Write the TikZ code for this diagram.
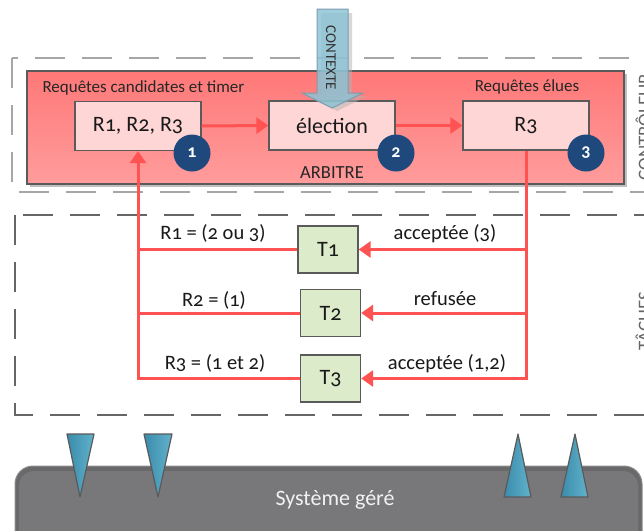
\documentclass[tikz,border=0pt]{standalone}
\usepackage{fontspec}
\setmainfont{Carlito}[Numbers=OldStyle]
\usetikzlibrary{arrows.meta}
\definecolor{boxline}{HTML}{5A5A5A}
\definecolor{pinkfill}{HTML}{FFD6D6}
\definecolor{greenfill}{HTML}{DCEBC9}
\definecolor{navy}{HTML}{1F487C}
\definecolor{redarr}{HTML}{FF5252}
\definecolor{redtop}{HTML}{FF7878}
\definecolor{redbot}{HTML}{FF9C9C}
\definecolor{ctxfill}{HTML}{8CC3D5}
\definecolor{ctxline}{HTML}{7C9DAE}
\definecolor{sysdark}{HTML}{69696C}
\definecolor{syslight}{HTML}{78787B}
\definecolor{tridark}{HTML}{3A8CAC}
\definecolor{trilight}{HTML}{62B2CB}
\begin{document}
\begin{tikzpicture}[x=1pt,y=-1pt,
  fs/.style={font=\fontsize{#1}{#1}\selectfont},
  inbox/.style={draw=boxline, line width=1.3pt, fill=pinkfill, minimum width=126pt, minimum height=49pt, inner sep=0pt, fs=22, text=black!90},
  tbox/.style={draw=boxline, line width=1.3pt, fill=greenfill, minimum width=60pt, minimum height=47pt, inner sep=0pt, fs=22, text=black!90},
  num/.style={circle, fill=navy, text=white, minimum size=37pt, inner sep=0pt, font=\fontsize{18}{18}\selectfont\bfseries},
  redline/.style={draw=redarr, line width=3pt},
  redarrow/.style={redline, -{Triangle[length=12pt,width=16pt]}},
  lbl/.style={fs=20.5, text=black!90, inner sep=0pt},
  side/.style={fs=19, text=black!60, inner sep=0pt, rotate=90, anchor=base},
  dashbox/.style={line width=1.5pt, dash pattern=on 30pt off 17pt},
  tri/.style={draw=boxline, line width=1.2pt, left color=tridark, right color=trilight, line join=round}
]
\useasboundingbox (0,0) rectangle (644,530);
\clip (0,0) rectangle (644,530);
\fill[white] (0,0) rectangle (644,530);

% dashed groups
\draw[dashbox, draw=black!35] (12,58) rectangle (680,192);
\draw[dashbox, draw=black!60] (15,215) rectangle (680,415);
\node[side] (ctl) at (651,127) {CONTRÔLEUR};
\node[side] (tac) at (651,321) {TÂCHES};

% arbitre
\fill[black!25] (30,74) rectangle (627,187);
\node[draw=boxline, line width=1.3pt, top color=redtop, bottom color=redbot, minimum width=597pt, minimum height=113pt, inner sep=0pt] (arb) at (325.5,127.5) {};
\node[fs=18.5, text=black!85] (arbl) at (332,173) {ARBITRE};
\node[fs=17, text=black!85, anchor=west] (rc) at (39,88) {Requêtes candidates et timer};
\node[fs=17, text=black!85] (re) at (527,87) {Requêtes élues};

\node[inbox] (R1) at (138,126) {R1, R2, R3};
\node[inbox] (el) at (332,125.5) {élection};
\node[inbox] (R3) at (526,125.5) {R3};
\node[num] (n1) at (192,153) {1};
\node[num] (n2) at (396,153) {2};
\node[num] (n3) at (586,153) {3};

% contexte arrow
\fill[black!30, opacity=0.5] (352,13) -- (352,96) -- (367,96) -- (337,111) -- (306,96) -- (321,96) -- (321,13) -- cycle;
\path[draw=ctxline, line width=1pt, fill=ctxfill, fill opacity=0.82] (317,9) -- (348,9) -- (348,93) -- (363,93) -- (332,108) -- (302,93) -- (317,93) -- cycle;
\node[fs=15, text=black!80, rotate=-90] (ctx) at (331,58) {CONTEXTE};

% tasks
\node[tbox] (T1) at (328,249.5) {T1};
\node[tbox] (T2) at (330.5,313) {T2};
\node[tbox] (T3) at (330.5,378.5) {T3};

% red connectors
\draw[redarrow] (R1.east) -- (el.west);
\draw[redarrow] (el.east) -- (R3.west);
\draw[redarrow] (R3.south) |- (T3.east);
\draw[redarrow] (R3.south |- T1.east) -- (T1.east);
\draw[redarrow] (R3.south |- T2.east) -- (T2.east);
\draw[redarrow] (T3.west) -| (R1.south);
\draw[redline] (T1.west) -- (R1.south |- T1.west);
\draw[redline] (T2.west) -- (R1.south |- T2.west);

% labels
\node[lbl] (l1) at (213,233) {R1 = (2 ou 3)};
\node[lbl] (l2) at (214,300) {R2 = (1)};
\node[lbl] (l3) at (215,363) {R3 = (1 et 2)};
\node[lbl] (r1) at (445,234) {acceptée (3)};
\node[lbl] (r2) at (445,299) {refusée};
\node[lbl] (r3) at (447,364) {acceptée (1,2)};

% managed system
\fill[sysdark, rounded corners=18pt] (15,466) rectangle (642,570);
\fill[syslight, rounded corners=15pt] (19,471) rectangle (638,570);
\draw[black!45, line width=1pt, rounded corners=18pt] (15,570) -- (15,466) -- (642,466) -- (642,570);
\node[fs=22, text=white!95!black] (sys) at (335,500) {Système géré};

\path[tri] (67,434) -- (94,434) -- (80,497) -- cycle;
\path[tri] (144,434) -- (172,434) -- (158,497) -- cycle;
\path[tri] (504,497) -- (531,497) -- (518,434) -- cycle;
\path[tri] (561,497) -- (588,497) -- (575,434) -- cycle;
\end{tikzpicture}
\end{document}
